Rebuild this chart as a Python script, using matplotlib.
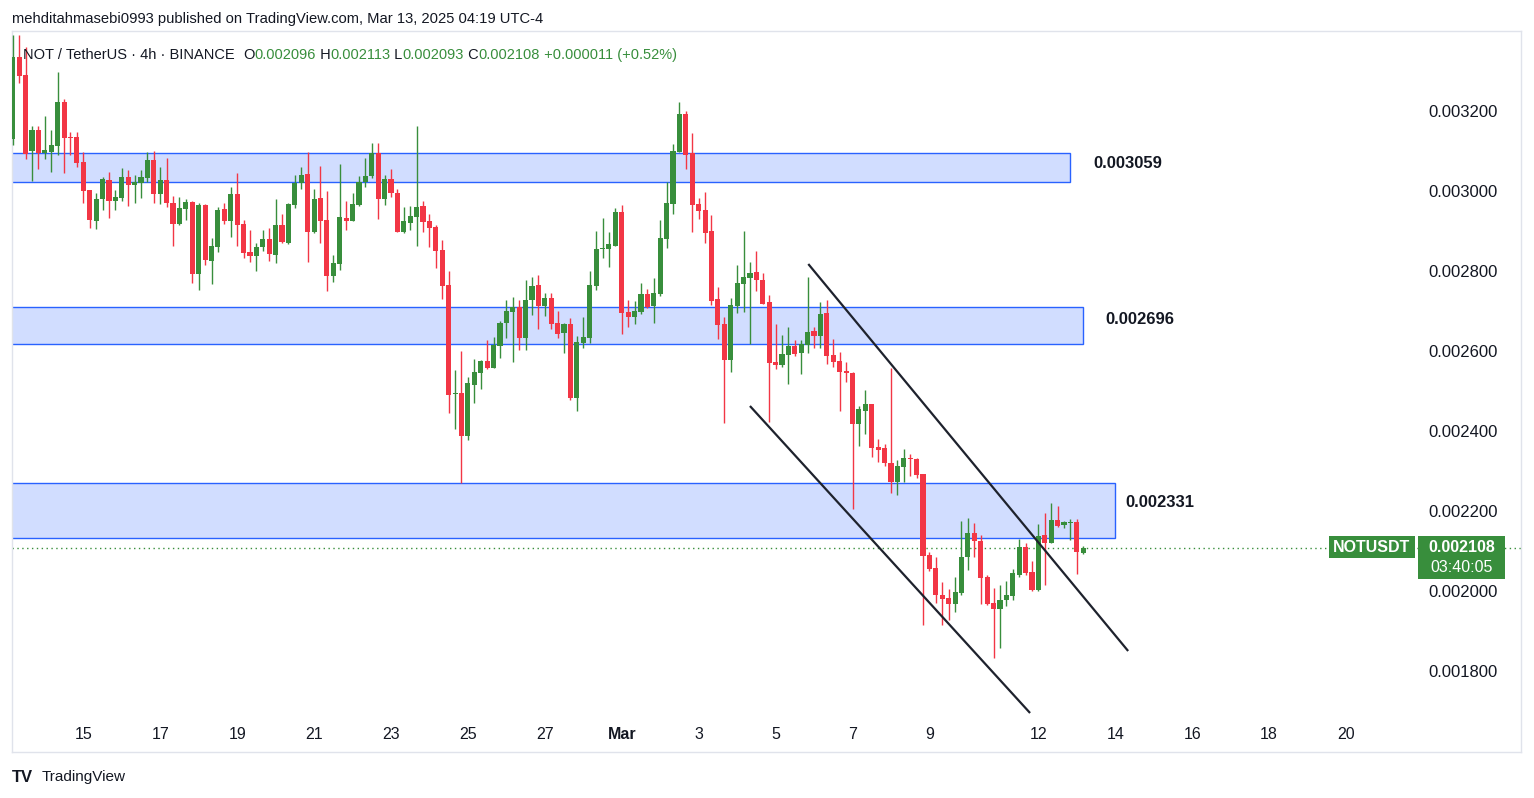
import numpy as np
import pandas as pd
import matplotlib
matplotlib.use("Agg")
import matplotlib.pyplot as plt
import matplotlib.transforms as mtransforms
from matplotlib.patches import Rectangle

plt.rcParams['font.family'] = ['Liberation Sans', 'DejaVu Sans']

# NOT/USDT 4h bars (Binance), first bar opens 2025-02-13 12:00 UTC
# prices in millionths of USDT
first_open = pd.Timestamp('2025-02-13 12:00')

opens = [
    3130, 3335, 3290, 3100, 3153, 3095, 3098, 3113, 3223, 3135,
    3135, 3073, 3003, 2925, 2980, 3028, 2975, 2983, 3035, 3015,
    3020, 3033, 3078, 2993, 3028, 2970, 2918, 2955, 2973, 2793,
    2965, 2825, 2860, 2955, 2925, 2993, 2918, 2848, 2838, 2860,
    2880, 2840, 2915, 2870, 2965, 3020, 3043, 2898, 2983, 2928,
    2788, 2818, 2933, 2925, 2965, 3023, 3038, 3095, 2980, 3030,
    2995, 2898, 2920, 2935, 2963, 2925, 2910, 2853, 2765, 2493,
    2495, 2388, 2515, 2545, 2575, 2558, 2613, 2670, 2698, 2710,
    2633, 2728, 2765, 2713, 2733, 2670, 2645, 2668, 2483, 2620,
    2633, 2763, 2855, 2855, 2863, 2948, 2698, 2685, 2698, 2743,
    2713, 2743, 2880, 2968, 3098, 3193, 3095, 2968, 2953, 2900,
    2730, 2668, 2578, 2713, 2768, 2783, 2798, 2778, 2723, 2573,
    2565, 2590, 2613, 2595, 2615, 2650, 2638, 2695, 2590, 2575,
    2550, 2545, 2418, 2450, 2468, 2360, 2358, 2320, 2273, 2310,
    2333, 2330, 2293, 2090, 2058, 1990, 1983, 1968, 1995, 2085,
    2145, 2125, 2035, 1970, 1955, 1978, 1988, 2040, 2110, 2048,
    2003, 2140, 2120, 2178, 2165, 2170, 2173, 2096]
highs = [
    3390, 3390, 3360, 3163, 3163, 3188, 3153, 3298, 3230, 3148,
    3148, 3098, 3003, 2995, 3035, 3048, 3003, 3058, 3053, 3040,
    3053, 3098, 3100, 3060, 3083, 2988, 2985, 2980, 2975, 2970,
    2968, 2883, 2960, 2970, 3010, 3045, 2928, 2903, 2870, 2903,
    2908, 2980, 2943, 2970, 3040, 3060, 3098, 3005, 3063, 3000,
    2840, 3068, 2975, 2995, 3038, 3083, 3120, 3120, 3040, 3055,
    3005, 2960, 2963, 3163, 2975, 2943, 2915, 2878, 2800, 2553,
    2600, 2535, 2580, 2578, 2628, 2635, 2675, 2728, 2735, 2728,
    2778, 2785, 2790, 2745, 2745, 2700, 2670, 2683, 2638, 2685,
    2800, 2900, 2933, 2898, 2958, 2965, 2728, 2725, 2770, 2755,
    2783, 2928, 3023, 3118, 3223, 3200, 3145, 2983, 2998, 2940,
    2760, 2685, 2733, 2815, 2900, 2823, 2850, 2795, 2740, 2668,
    2640, 2660, 2628, 2628, 2785, 2660, 2723, 2728, 2630, 2598,
    2573, 2548, 2463, 2503, 2468, 2380, 2368, 2558, 2328, 2355,
    2343, 2333, 2293, 2098, 2085, 2023, 2005, 2035, 2175, 2183,
    2170, 2140, 2040, 2008, 2015, 2025, 2055, 2130, 2120, 2075,
    2168, 2195, 2220, 2213, 2175, 2180, 2180, 2113]
lows = [
    3115, 3270, 3080, 3025, 3055, 3080, 3048, 3090, 3045, 3090,
    3060, 2970, 2908, 2905, 2953, 2933, 2953, 2975, 2963, 2970,
    2983, 3023, 2970, 2968, 2960, 2863, 2915, 2928, 2770, 2753,
    2815, 2768, 2848, 2918, 2885, 2863, 2833, 2823, 2800, 2850,
    2825, 2820, 2870, 2868, 2958, 3005, 2823, 2895, 2870, 2750,
    2773, 2803, 2903, 2925, 2963, 3010, 3033, 2930, 2965, 2985,
    2898, 2895, 2903, 2863, 2898, 2860, 2808, 2730, 2445, 2405,
    2270, 2378, 2470, 2505, 2555, 2558, 2583, 2633, 2573, 2603,
    2603, 2690, 2655, 2688, 2655, 2633, 2595, 2478, 2450, 2608,
    2620, 2753, 2833, 2810, 2863, 2643, 2660, 2668, 2693, 2708,
    2670, 2738, 2858, 2943, 3098, 3055, 2898, 2930, 2870, 2715,
    2630, 2420, 2548, 2695, 2698, 2618, 2750, 2718, 2423, 2555,
    2560, 2518, 2588, 2543, 2595, 2608, 2608, 2568, 2560, 2450,
    2523, 2205, 2363, 2393, 2335, 2323, 2313, 2245, 2240, 2273,
    2288, 2283, 1915, 2050, 1970, 1915, 1928, 1948, 1990, 2053,
    2085, 1968, 1965, 1833, 1858, 1963, 1978, 2035, 2040, 2000,
    2000, 2015, 2120, 2160, 2158, 2128, 2043, 2093]
closes = [
    3335, 3288, 3093, 3153, 3095, 3103, 3115, 3223, 3133, 3133,
    3070, 3000, 2928, 2980, 3030, 2975, 2985, 3035, 3015, 3023,
    3035, 3078, 2993, 3028, 2970, 2918, 2958, 2973, 2793, 2965,
    2828, 2863, 2953, 2925, 2993, 2915, 2845, 2838, 2860, 2880,
    2843, 2915, 2873, 2968, 3020, 3040, 2898, 2980, 2925, 2788,
    2820, 2935, 2925, 2968, 3023, 3038, 3095, 2980, 3030, 2995,
    2898, 2925, 2938, 2960, 2923, 2908, 2850, 2763, 2490, 2495,
    2388, 2520, 2548, 2575, 2558, 2615, 2670, 2700, 2710, 2633,
    2728, 2763, 2713, 2733, 2668, 2643, 2668, 2483, 2623, 2635,
    2765, 2855, 2858, 2868, 2948, 2695, 2685, 2700, 2743, 2710,
    2745, 2883, 2970, 3100, 3193, 3090, 2965, 2950, 2895, 2725,
    2665, 2578, 2715, 2770, 2785, 2795, 2778, 2718, 2570, 2565,
    2593, 2613, 2593, 2618, 2648, 2638, 2693, 2588, 2573, 2548,
    2545, 2418, 2455, 2468, 2358, 2353, 2320, 2273, 2313, 2333,
    2330, 2290, 2088, 2055, 1990, 1980, 1968, 1998, 2085, 2145,
    2125, 2033, 1968, 1955, 1978, 1990, 2045, 2110, 2045, 2003,
    2138, 2120, 2178, 2163, 2173, 2173, 2097, 2108]

# support / resistance boxes (price in millionths) and their right edge (bar index)
zone_tops = [3095, 2710, 2270]
zone_bottoms = [3022, 2618, 2133]
zone_ends = [165, 167, 172]
zone_labels = ['0.003059', '0.002696', '0.002331']
zone_label_x = [168.5, 170.5, 173.5]

# descending channel, (bar index, price)
chan_upper = [(124.1, 2817.5), (174.0, 1850)]
chan_lower = [(115.0, 2462.5), (158.7, 1695)]

tick_days = pd.to_datetime(['2025-02-15', '2025-02-17', '2025-02-19', '2025-02-21',
                            '2025-02-23', '2025-02-25', '2025-02-27', '2025-03-01',
                            '2025-03-03', '2025-03-05', '2025-03-07', '2025-03-09',
                            '2025-03-12', '2025-03-14', '2025-03-16', '2025-03-18',
                            '2025-03-20'])
tick_labels = ['15', '17', '19', '21', '23', '25', '27', 'Mar', '3', '5', '7', '9',
               '12', '14', '16', '18', '20']

o = np.array(opens) * 1e-6
h = np.array(highs) * 1e-6
l = np.array(lows) * 1e-6
c = np.array(closes) * 1e-6

UP = '#388e3c'
DOWN = '#f23645'
INK = '#131722'
BLUE = '#2962ff'

W, H = 1534, 798
fig = plt.figure(figsize=(W / 100, H / 100), dpi=100)
ax = fig.add_axes([12 / W, 1 - 752 / H, (1521 - 12) / W, (752 - 31) / H])

bar_w = 6.41
ax.set_xlim((12 - 12.8) / bar_w, (1521 - 12.8) / bar_w)
ax.set_ylim((3200 - (752 - 111) * 2.5) * 1e-6, (3200 + (111 - 31) * 2.5) * 1e-6)

# zones
for top, bot, end, lab, lx in zip(zone_tops, zone_bottoms, zone_ends, zone_labels, zone_label_x):
    ax.add_patch(Rectangle((-5, bot * 1e-6), end + 5, (top - bot) * 1e-6,
                           facecolor=(41 / 255, 98 / 255, 1, 0.21), edgecolor=BLUE,
                           lw=1, zorder=1))
    ax.text(lx, (top - 0.35 * (top - bot)) * 1e-6, lab, fontsize=12, color=INK,
            fontweight='bold', va='center', ha='left', zorder=5)

# candles
idx = np.arange(len(o))
col = np.where(c >= o, UP, DOWN)
ax.vlines(idx, l, h, colors=col, lw=1, zorder=3)
body = np.maximum(np.abs(c - o), 0.8e-6)
ax.bar(idx, body, bottom=np.minimum(o, c), width=0.8, color=col, lw=0, zorder=4)

# channel
for seg in (chan_upper, chan_lower):
    xs = [p[0] for p in seg]
    ys = [p[1] * 1e-6 for p in seg]
    ax.plot(xs, ys, color='#1e222d', lw=1.6, zorder=6, solid_capstyle='butt')

# last price line and labels
ax.axhline(c[-1], color=UP, lw=1, ls=(0, (1, 2.5)), zorder=2)
blend = mtransforms.blended_transform_factory(ax.transAxes, ax.transData)
px = lambda x: (x - 12) / (1521 - 12)
py = lambda y: (3200 - (y - 111) * 2.5) * 1e-6
ax.add_patch(Rectangle((px(1329), py(558)), px(1415) - px(1329), py(536) - py(558),
                       transform=blend, facecolor=UP, edgecolor='none', zorder=7))
ax.add_patch(Rectangle((px(1418), py(579)), px(1505) - px(1418), py(536) - py(579),
                       transform=blend, facecolor=UP, edgecolor='none', zorder=7))
ax.text(px(1372), c[-1], 'NOTUSDT', transform=blend, color='white', fontsize=11.5,
        fontweight='bold', ha='center', va='center', zorder=8)
ax.text(px(1462), c[-1], f'{c[-1]:.6f}', transform=blend, color='white', fontsize=11.5,
        fontweight='bold', ha='center', va='center', zorder=8)
ax.text(px(1462), py(568), '03:40:05', transform=blend, color='white', fontsize=11.5,
        ha='center', va='center', zorder=8)

# axes
def bar_pos(day):
    # local midnight (New York) -> first 4h bar of that day
    utc = day + pd.Timedelta(hours=5 if day < pd.Timestamp('2025-03-10') else 4)
    return int(np.ceil((utc - first_open) / pd.Timedelta(hours=4)))

ax.set_xticks([bar_pos(d) for d in tick_days], tick_labels)
for t in ax.get_xticklabels():
    t.set_va('center')
    if t.get_text() == 'Mar':
        t.set_fontweight('bold')
ax.tick_params(axis='x', length=0, pad=-12.5, labelsize=11.5, colors=INK)

yt = np.arange(1800, 3201, 200) * 1e-6
ax.set_yticks(yt, [f'{v:.6f}' for v in yt])
ax.yaxis.tick_right()
ax.tick_params(axis='y', length=0, pad=-67, labelsize=12, colors=INK,
               labelright=True, labelleft=False)
for s in ax.spines.values():
    s.set_color('#e0e3eb')
    s.set_linewidth(1)

# header
fig.text(12 / W, 1 - 19.5 / H,
         'mehditahmasebi0993 published on TradingView.com, Mar 13, 2025 04:19 UTC-4',
         fontsize=10.6, color=INK, va='center')
chg = c[-1] - c[-2]
hdr = [('NOT / TetherUS · 4h · BINANCE  ', INK), ('O', INK), (f'{o[-1]:.6f}', UP),
       (' H', INK), (f'{h[-1]:.6f}', UP), (' L', INK), (f'{l[-1]:.6f}', UP),
       (' C', INK), (f'{c[-1]:.6f}', UP),
       (f' {chg:+.6f} ({chg / c[-2] * 100:+.2f}%)', UP)]
prev = fig.text(23 / W, 1 - 55 / H, hdr[0][0], fontsize=10.5, color=hdr[0][1], va='center')
for txt, cl in hdr[1:]:
    prev = ax.annotate(txt, xy=(1, 0), xycoords=prev, va='bottom', ha='left',
                       fontsize=10.5, color=cl, annotation_clip=False)

fig.text(12 / W, 1 - 777 / H, 'TV', fontsize=12, fontweight='heavy', color=INK, va='center')
fig.text(42 / W, 1 - 777 / H, 'TradingView', fontsize=11, color=INK, va='center')

fig.savefig('out.png', dpi=100)
